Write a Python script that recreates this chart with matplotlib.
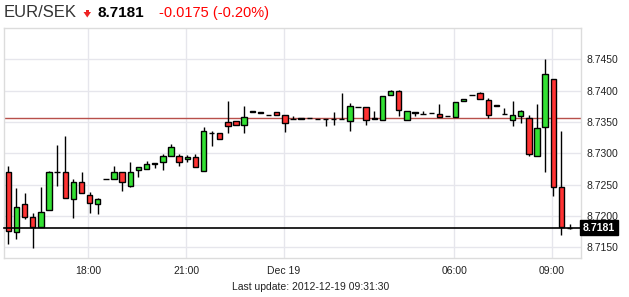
import matplotlib
matplotlib.use("Agg")
import matplotlib.pyplot as plt
from matplotlib.patches import Polygon
import matplotlib.transforms as mtransforms
import numpy as np

plt.rcParams['font.family'] = ['Liberation Sans', 'DejaVu Sans']

# 15 minute candles, 15:30 (Dec 18) .. 09:30 (Dec 19)
opens = [8.7271, 8.7174, 8.7219, 8.7198, 8.7182, 8.7210, 8.7270, 8.7270, 8.7227, 8.7255,
         8.7234, 8.7219, 8.7259, 8.7259, 8.7271, 8.7248, 8.7273, 8.7275, 8.7283, 8.7286,
         8.7295, 8.7295, 8.7291, 8.7294, 8.7272, 8.7332, 8.7332, 8.7350, 8.7351, 8.7346,
         8.7366, 8.7366, 8.7361, 8.7366, 8.7361, 8.7355, 8.7356, 8.7356, 8.7355, 8.7355,
         8.7355, 8.7355, 8.7351, 8.7374, 8.7374, 8.7356, 8.7354, 8.7393, 8.7399, 8.7354,
         8.7366, 8.7363, 8.7364, 8.7363, 8.7360, 8.7358, 8.7383, 8.7393, 8.7396, 8.7385,
         8.7377, 8.7363, 8.7354, 8.7359, 8.7357, 8.7295, 8.7342, 8.7418, 8.7247, 8.7181]
highs = [8.7280, 8.7244, 8.7237, 8.7205, 8.7246, 8.7272, 8.7313, 8.7327, 8.7259, 8.7270,
         8.7238, 8.7228, 8.7259, 8.7280, 8.7271, 8.7286, 8.7279, 8.7288, 8.7284, 8.7299,
         8.7315, 8.7299, 8.7298, 8.7299, 8.7342, 8.7336, 8.7332, 8.7384, 8.7351, 8.7375,
         8.7367, 8.7366, 8.7361, 8.7366, 8.7361, 8.7360, 8.7356, 8.7356, 8.7355, 8.7355,
         8.7366, 8.7397, 8.7380, 8.7374, 8.7374, 8.7368, 8.7391, 8.7401, 8.7401, 8.7367,
         8.7366, 8.7367, 8.7364, 8.7379, 8.7360, 8.7382, 8.7387, 8.7393, 8.7398, 8.7388,
         8.7378, 8.7372, 8.7383, 8.7370, 8.7361, 8.7379, 8.7450, 8.7418, 8.7335, 8.7187]
lows = [8.7156, 8.7163, 8.7195, 8.7149, 8.7182, 8.7209, 8.7248, 8.7228, 8.7196, 8.7236,
        8.7205, 8.7203, 8.7259, 8.7259, 8.7240, 8.7247, 8.7263, 8.7275, 8.7276, 8.7273,
        8.7295, 8.7280, 8.7286, 8.7278, 8.7272, 8.7311, 8.7323, 8.7332, 8.7346, 8.7332,
        8.7366, 8.7364, 8.7361, 8.7361, 8.7334, 8.7355, 8.7355, 8.7356, 8.7355, 8.7343,
        8.7345, 8.7355, 8.7335, 8.7374, 8.7346, 8.7355, 8.7354, 8.7393, 8.7359, 8.7354,
        8.7360, 8.7363, 8.7364, 8.7358, 8.7360, 8.7358, 8.7383, 8.7393, 8.7387, 8.7356,
        8.7376, 8.7363, 8.7344, 8.7348, 8.7295, 8.7295, 8.7270, 8.7232, 8.7169, 8.7179]
closes = [8.7176, 8.7215, 8.7198, 8.7182, 8.7206, 8.7271, 8.7270, 8.7228, 8.7255, 8.7236,
          8.7220, 8.7227, 8.7259, 8.7271, 8.7254, 8.7271, 8.7279, 8.7283, 8.7284, 8.7295,
          8.7310, 8.7286, 8.7294, 8.7278, 8.7336, 8.7332, 8.7323, 8.7343, 8.7346, 8.7358,
          8.7367, 8.7365, 8.7361, 8.7361, 8.7348, 8.7355, 8.7355, 8.7356, 8.7355, 8.7355,
          8.7355, 8.7355, 8.7376, 8.7374, 8.7354, 8.7355, 8.7391, 8.7399, 8.7370, 8.7367,
          8.7365, 8.7363, 8.7364, 8.7358, 8.7360, 8.7382, 8.7387, 8.7393, 8.7387, 8.7362,
          8.7376, 8.7363, 8.7362, 8.7367, 8.7299, 8.7341, 8.7426, 8.7246, 8.7183, 8.7181]

tick_pos = [10, 22, 34, 55, 67]
tick_labels = ['18:00', '21:00', 'Dec 19', '06:00', '09:00']
y_ticks = [8.7150, 8.7200, 8.7250, 8.7300, 8.7350, 8.7400, 8.7450]
last_price = 8.7181
prev_close = 8.7356

W, H = 629, 297
fig = plt.figure(figsize=(W / 100, H / 100), dpi=100)
ax = fig.add_axes([4 / W, 1 - 258 / H, (580.5 - 4) / W, (258 - 28) / H])

o = np.array(opens)
c = np.array(closes)
x = np.arange(len(o))
colors = np.where(c > o, '#33e033', np.where(c < o, '#ff3333', 'white'))

ax.vlines(x, lows, highs, color='black', lw=1, zorder=3)
ax.bar(x, np.abs(c - o), bottom=np.minimum(o, c), width=0.66, color=colors,
       edgecolor='black', linewidth=1, zorder=4)

ax.axhline(prev_close, color='#b8504b', lw=1, zorder=2)
ax.axhline(last_price, color='black', lw=1.2, zorder=5, clip_on=False, xmax=1.003)

ax.set_xlim(-0.53, 70.35)
ax.set_ylim(8.71329, 8.75002)

ax.set_xticks([p - 0.15 for p in tick_pos])
ax.set_xticklabels(tick_labels)
ax.set_yticks(y_ticks)
ax.set_yticklabels(['%.4f' % v for v in y_ticks])
ax.yaxis.tick_right()
ax.tick_params(axis='both', length=0, labelsize=7.5, colors='#222222')
ax.tick_params(axis='x', pad=6)
ax.tick_params(axis='y', pad=4)
ax.grid(True, color='#e6e6ec', lw=1)
ax.set_axisbelow(True)
for s in ax.spines.values():
    s.set_color('#dcdcdc')
    s.set_linewidth(1)

trans = mtransforms.blended_transform_factory(ax.transAxes, ax.transData)
ax.text(1.004, last_price, '%.4f' % last_price, transform=trans, ha='left', va='center',
        fontsize=7.5, fontweight='bold', color='white', zorder=6,
        bbox=dict(boxstyle='square,pad=0.25', fc='black', ec='black'))

# header
fig.text(4 / W, 1 - 16.7 / H, 'EUR/SEK', fontsize=12, color='#333333', va='baseline')
arrow = [(83.5, 12), (91, 12), (87.25, 17.5)]
stem = [(86, 9.5), (88.5, 9.5), (88.5, 12.5), (86, 12.5)]
for pts in (arrow, stem):
    fig.patches.append(Polygon([(px / W, 1 - py / H) for px, py in pts], closed=True,
                               transform=fig.transFigure, fc='#ee2222', ec='none'))
fig.text(97 / W, 1 - 16.7 / H, '8.7181', fontsize=11, fontweight='bold', color='black', va='baseline')
fig.text(159 / W, 1 - 16.7 / H, '-0.0175 (-0.20%)', fontsize=10.5, color='#ff0000', va='baseline')

fig.text(311 / W, 1 - 287 / H, 'Last update: 2012-12-19 09:31:30', fontsize=7.5,
         color='#222222', ha='center', va='center')

fig.savefig('out.png', dpi=100)
